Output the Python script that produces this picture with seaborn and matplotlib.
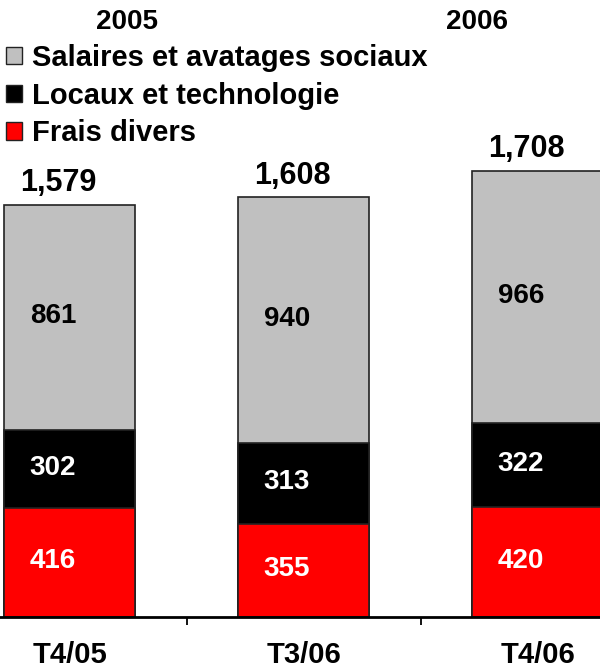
import matplotlib
matplotlib.use("Agg")
import matplotlib.pyplot as plt
import seaborn as sns
import pandas as pd
import numpy as np
from matplotlib.patches import Patch

quarters = ["T4/05", "T3/06", "T4/06"]
frais = [416, 355, 420]
locaux = [302, 313, 322]
salaires = [861, 940, 966]
totals = ["1,579", "1,608", "1,708"]
years = ["2005", "2006"]
series_names = ["Salaires et avatages sociaux", "Locaux et technologie", "Frais divers"]

grey, black, red = "#C0C0C0", "#000000", "#FF0000"

sns.set_style("white")
plt.rcParams["font.family"] = ["Liberation Sans", "DejaVu Sans"]
plt.rcParams["font.weight"] = "bold"
plt.rcParams["text.color"] = "black"
plt.rcParams["xtick.color"] = "black"
plt.rcParams["axes.labelcolor"] = "black"

df = pd.DataFrame({"q": quarters, "frais": frais, "locaux": locaux, "salaires": salaires})
df["c1"] = df["frais"]
df["c2"] = df["frais"] + df["locaux"]
df["c3"] = df["c2"] + df["salaires"]

fig = plt.figure(figsize=(6, 6.7), dpi=100)
ax = fig.add_axes([0, 53 / 670, 1, 617 / 670])

# stacked look: draw cumulative heights from tallest to shortest
for col, colr in [("c3", grey), ("c2", black), ("c1", red)]:
    sns.barplot(data=df, x="q", y=col, order=quarters, color=colr, width=0.56,
                edgecolor="#222222", linewidth=1.2, errorbar=None, saturation=1, ax=ax)

ax.set_xlim(-0.297, 2.267)
ax.set_ylim(0, 2365)
ax.set_xlabel("")
ax.set_ylabel("")
ax.set_yticks([])
for s in ["left", "top", "right"]:
    ax.spines[s].set_visible(False)
ax.spines["bottom"].set_linewidth(2)
ax.spines["bottom"].set_color("black")

ax.set_xticks(range(len(quarters)))
ax.set_xticklabels(quarters, fontsize=21, fontweight="bold", color="black")
ax.tick_params(axis="x", which="major", length=0, pad=17)
ax.set_xticks([0.5, 1.5], minor=True)
ax.tick_params(axis="x", which="minor", length=6, width=1.3, color="black", direction="out", bottom=True)

# segment values
for i in range(len(quarters)):
    segs = [(0, frais[i], "white"), (frais[i], locaux[i], "white"),
            (frais[i] + locaux[i], salaires[i], "black")]
    for base, h, tc in segs:
        ax.annotate(str(h), (i, base + h / 2), xytext=(-12, 1), textcoords="offset points",
                    ha="center", va="center", fontsize=20, fontweight="bold", color=tc)
    ax.annotate(totals[i], (i, df["c3"][i]), xytext=(-8, 5), textcoords="offset points",
                ha="center", va="bottom", fontsize=22, fontweight="bold", color="black")

fig.text(127 / 600, 1 - 22 / 670, years[0], ha="center", va="center", fontsize=20, fontweight="bold")
fig.text(477 / 600, 1 - 22 / 670, years[1], ha="center", va="center", fontsize=20, fontweight="bold")

handles = [Patch(facecolor=c, edgecolor="#222222", linewidth=1) for c in [grey, black, red]]
leg = fig.legend(handles, series_names, loc="upper left", bbox_to_anchor=(6 / 600, 1 - 44 / 670),
                 frameon=False, handlelength=0.55, handleheight=0.55,
                 handletextpad=0.35, labelspacing=0.33, borderpad=0, borderaxespad=0,
                 prop={"weight": "bold", "size": 21})
for t in leg.get_texts():
    t.set_color("black")

fig.savefig("out.png", dpi=100)
